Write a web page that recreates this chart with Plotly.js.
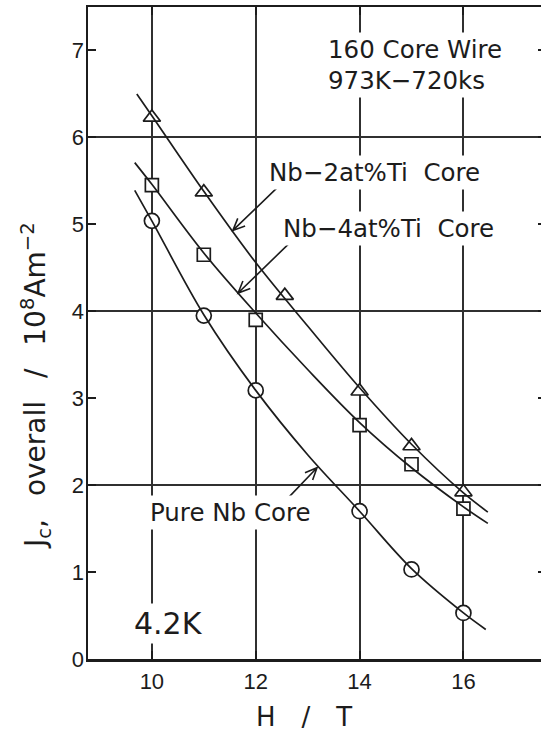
<!DOCTYPE html>
<html>
<head>
<meta charset="utf-8">
<script src="https://cdn.plot.ly/plotly-3.0.1.min.js"></script>
<style>
  html, body { margin: 0; padding: 0; background: #fff; overflow: hidden; }
  #chart { width: 548px; height: 738px; }
</style>
</head>
<body>
<div id="chart"></div>
<script>
// Measured critical current density (10^8 A/m^2) vs. applied field H (T) at 4.2 K
const triH  = [10, 11, 12.56, 14, 15, 16];          // Nb-2at%Ti core
const triJc = [6.23, 5.37, 4.18, 3.08, 2.45, 1.92];
const sqH   = [10, 11, 12, 14, 15, 16];             // Nb-4at%Ti core
const sqJc  = [5.45, 4.65, 3.90, 2.69, 2.24, 1.73];
const cirH  = [10, 11, 12, 14, 15, 16];             // pure Nb core
const cirJc = [5.04, 3.95, 3.09, 1.70, 1.03, 0.53];

// Smooth guide curves drawn through each series
const triFitH  = [9.71, 10, 11, 12, 13, 14, 15, 16, 16.47];
const triFitJc = [6.50, 6.25, 5.38, 4.56, 3.83, 3.12, 2.47, 1.91, 1.69];
const sqFitH   = [9.67, 10, 11, 12, 13, 14, 15, 16, 16.47];
const sqFitJc  = [5.71, 5.46, 4.67, 3.98, 3.33, 2.72, 2.20, 1.75, 1.56];
const cirFitH  = [9.67, 10, 11, 12, 13, 14, 15, 16, 16.43];
const cirFitJc = [5.39, 5.04, 3.96, 3.09, 2.35, 1.70, 1.04, 0.53, 0.34];

const INK = '#1c1c1c';
const GRID = '#303030';
const XR = [8.77, 17.59];
const YR = [0, 7.5];
const W = 548, Hh = 738;
const M = {l: 88, r: 2, t: 7, b: 79};

function curve(x, y) {
  return {x, y, xaxis: 'x', yaxis: 'y2', mode: 'lines', hoverinfo: 'skip',
          line: {color: INK, width: 1.7, shape: 'spline', smoothing: 1}, showlegend: false};
}
function points(x, y, symbol, size) {
  return {x, y, mode: 'markers', showlegend: false,
          marker: {symbol, size, color: '#fff', line: {color: INK, width: 1.7}}};
}

const traces = [
  curve(triFitH, triFitJc),
  curve(sqFitH, sqFitJc),
  curve(cirFitH, cirFitJc),
  points(triH, triJc, 'triangle-up', 15),
  points(sqH, sqJc, 'square', 13),
  points(cirH, cirJc, 'circle', 15)
];

// Leader arrows (tail -> tip) pointing from the labels to their curves
const arrows = [
  {tail: [12.43, 5.43], tip: [11.56, 4.93]},
  {tail: [12.66, 4.79], tip: [11.66, 4.21]},
  {tail: [12.62, 1.85], tip: [13.18, 2.20]}
];
const kx = (W - M.l - M.r) / (XR[1] - XR[0]);
const ky = (Hh - M.t - M.b) / (YR[1] - YR[0]);
function arrowPath(a) {
  const [x0, y0] = a.tail, [x1, y1] = a.tip;
  let dx = (x1 - x0) * kx, dy = (y1 - y0) * ky;
  const len = Math.hypot(dx, dy); dx /= len; dy /= len;
  const L = 13, th = 0.42;
  const head = s => {
    const c = Math.cos(s * th), sn = Math.sin(s * th);
    const rx = dx * c - dy * sn, ry = dx * sn + dy * c;
    return [x1 - L * rx / kx, y1 - L * ry / ky];
  };
  const h1 = head(1), h2 = head(-1);
  return `M${x0},${y0} L${x1},${y1} M${h1[0]},${h1[1]} L${x1},${y1} L${h2[0]},${h2[1]}`;
}
const shapes = arrows.map(a => ({type: 'path', xref: 'x', yref: 'y', path: arrowPath(a),
                                 line: {color: INK, width: 1.6}}));

const TXT = {family: 'DejaVu Sans, sans-serif', size: 24.5, color: INK};
function label(text, x, y, opts) {
  return Object.assign({text, x, y, xref: 'x', yref: 'y', showarrow: false,
    xanchor: 'left', yanchor: 'middle', font: TXT, bgcolor: '#fff', borderpad: 2}, opts || {});
}

const annotations = [
  label('160 Core Wire', 13.33, 7.01),
  label('973K\u2212720ks', 13.33, 6.65),
  label('Nb\u22122at%Ti  Core', 12.2, 5.60),
  label('Nb\u22124at%Ti  Core', 12.47, 4.95),
  label('Pure Nb Core', 9.9, 1.68),
  label('4.2K', 9.6, 0.41, {font: Object.assign({}, TXT, {size: 30})}),
  {text: 'H\u2003/\u2003T', x: 0.472, y: -0.089, xref: 'paper', yref: 'paper', showarrow: false,
   xanchor: 'center', yanchor: 'middle', font: Object.assign({}, TXT, {size: 26})},
  {text: 'J<sub>c</sub>,\u2002 overall \u2002/\u2002 10<sup>8</sup>Am<sup>\u22122</sup>', x: -0.114, y: 0.42,
   xref: 'paper', yref: 'paper', showarrow: false, textangle: -90,
   xanchor: 'center', yanchor: 'middle', font: Object.assign({}, TXT, {size: 28})}
];

const axisCommon = {
  showline: true, linecolor: INK, linewidth: 2.5, mirror: 'ticks',
  ticks: 'inside', ticklen: 8, tickwidth: 2, tickcolor: INK,
  zeroline: false, fixedrange: true,
  tickfont: {family: 'Liberation Sans, Arial, sans-serif', size: 22, color: INK}
};

const layout = {
  width: W, height: Hh, margin: M,
  paper_bgcolor: '#fff', plot_bgcolor: '#fff',
  showlegend: false,
  xaxis: Object.assign({}, axisCommon, {
    range: XR, tick0: 0, dtick: 2, showgrid: true, gridcolor: GRID, gridwidth: 2,
    ticklabelstandoff: 1
  }),
  yaxis: Object.assign({}, axisCommon, {
    range: YR, tick0: 0, dtick: 1, showgrid: false, ticklabelstandoff: -3
  }),
  yaxis2: {
    overlaying: 'y', range: YR, tick0: 0, dtick: 2, showgrid: true,
    gridcolor: GRID, gridwidth: 2, showticklabels: false, ticks: '',
    showline: false, zeroline: false, fixedrange: true
  },
  shapes, annotations
};

Plotly.newPlot('chart', traces, layout, {displayModeBar: false, staticPlot: true});
</script>
</body>
</html>
